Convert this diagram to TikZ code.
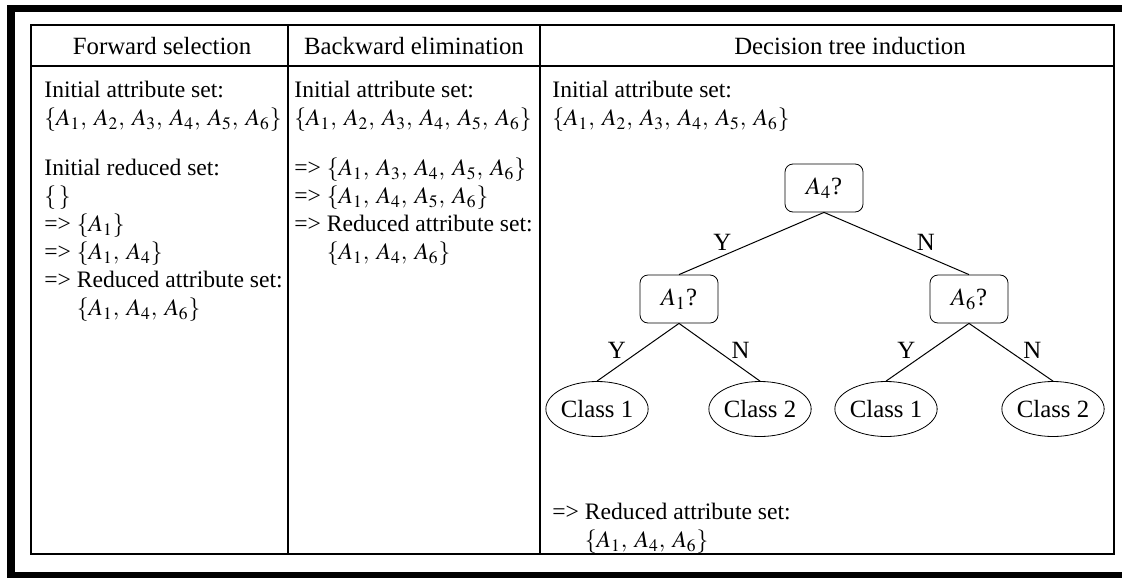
\documentclass[tikz,border=0pt]{standalone}
\usepackage{mathptmx}
\usepackage{fontspec}
\setmainfont{Liberation Serif}
\usetikzlibrary{shapes.geometric, positioning}
\newcommand{\sepc}{,\mkern3.5mu}

\begin{document}
\begin{tikzpicture}[x=0.5pt, y=-0.5pt, font=\fontsize{12.4}{14}\selectfont,
    tabline/.style={line width=0.6pt},
    head/.style={anchor=base, inner sep=0pt},
    cell/.style={anchor=north west, align=left, inner sep=0pt, font=\fontsize{11.8}{14}\selectfont},
    test/.style={draw, rounded corners=4pt, minimum width=39pt, minimum height=24pt, inner sep=0pt},
    leaf/.style={draw, ellipse, minimum width=49pt, minimum height=27.5pt, inner sep=0pt},
    branch/.style={line width=0.5pt},
    lbl/.style={pos=0.63, inner sep=0.5pt}]
    \useasboundingbox (0,0) rectangle (1122,578);
    % thick frame round the table
    \fill (7,5) rectangle (15,578);
    \fill (7,5) rectangle (1122,12);
    \fill (7,572) rectangle (1122,578);
    % table rules
    \draw[tabline] (31,25) rectangle (1114,554);
    \draw[tabline] (31,66) -- (1114,66);
    \draw[tabline] (288,25) -- (288,554);
    \draw[tabline] (540,25) -- (540,554);
    % headers
    \node[head] (fwdhead) at (162,54) {Forward selection};
    \node[head] (bwdhead) at (414,54) {Backward elimination};
    \node[head] (treehead) at (850,54) {Decision tree induction};
    % column texts
    \node[cell] (fwdtext) at (44,81) {Initial attribute set:\\ $\{A_1\sepc A_2\sepc A_3\sepc A_4\sepc A_5\sepc A_6\}$\\[11pt]
        Initial reduced set:\\ $\{\,\}$\\ => $\{A_1\}$\\ => $\{A_1\sepc A_4\}$\\ => Reduced attribute set:\\ \phantom{=> }$\{A_1\sepc A_4\sepc A_6\}$};
    \node[cell] (bwdtext) at (294,81) {Initial attribute set:\\ $\{A_1\sepc A_2\sepc A_3\sepc A_4\sepc A_5\sepc A_6\}$\\[11pt]
        => $\{A_1\sepc A_3\sepc A_4\sepc A_5\sepc A_6\}$\\ => $\{A_1\sepc A_4\sepc A_5\sepc A_6\}$\\ => Reduced attribute set:\\ \phantom{=> }$\{A_1\sepc A_4\sepc A_6\}$};
    \node[cell] (treetext) at (552,81) {Initial attribute set:\\ $\{A_1\sepc A_2\sepc A_3\sepc A_4\sepc A_5\sepc A_6\}$};
    \node[cell] (treeresult) at (552,503) {=> Reduced attribute set:\\ \phantom{=> }$\{A_1\sepc A_4\sepc A_6\}$};
    % decision tree
    \node[test] (a4) at (824,188) {$A_4$?};
    \node[test] (a1) at (679,299) {$A_1$?};
    \node[test] (a6) at (969,299) {$A_6$?};
    \node[leaf] (c1) at (597,409) {Class 1};
    \node[leaf] (c2) at (760,409) {Class 2};
    \node[leaf] (c3) at (886,409) {Class 1};
    \node[leaf] (c4) at (1053,409) {Class 2};
    \draw[branch] (a4.south) -- node[lbl, anchor=south east] (y1) {Y} (a1.north);
    \draw[branch] (a4.south) -- node[lbl, anchor=south west] (n1) {N} (a6.north);
    \draw[branch] (a1.south) -- node[lbl, anchor=south east] (y2) {Y} (c1.north);
    \draw[branch] (a1.south) -- node[lbl, anchor=south west] (n2) {N} (c2.north);
    \draw[branch] (a6.south) -- node[lbl, anchor=south east] (y3) {Y} (c3.north);
    \draw[branch] (a6.south) -- node[lbl, anchor=south west] (n3) {N} (c4.north);
\end{tikzpicture}
\end{document}
